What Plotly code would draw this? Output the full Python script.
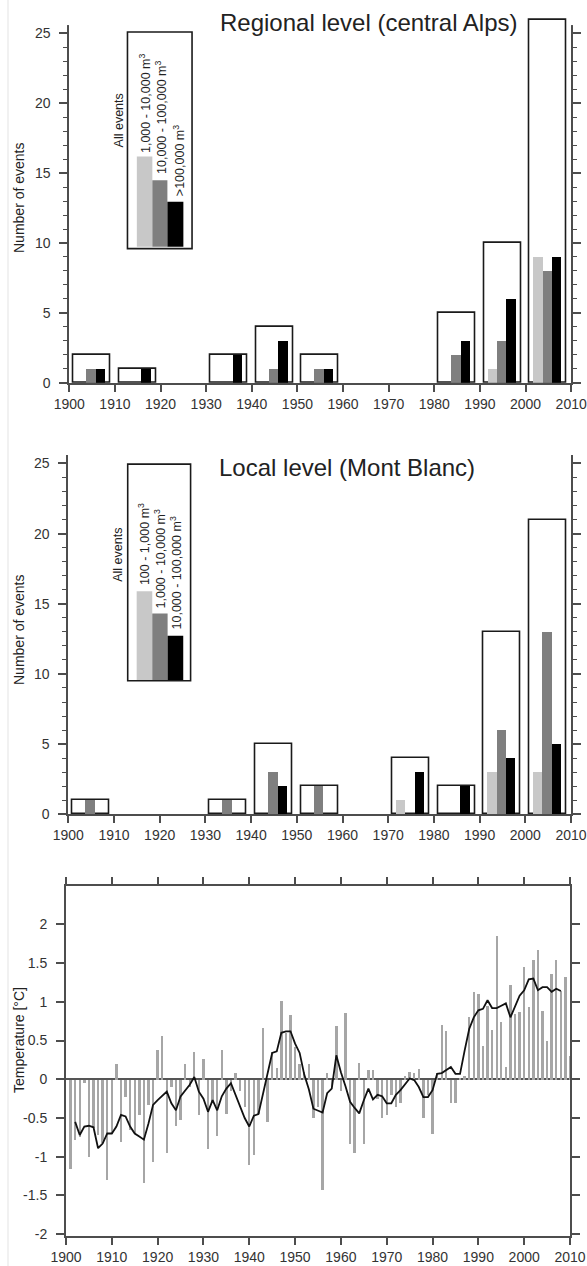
import plotly.graph_objects as go

# ---------------- data ----------------
decades = [1900, 1910, 1920, 1930, 1940, 1950, 1960, 1970, 1980, 1990, 2000]

# Regional level (central Alps)
reg_all = [2, 1, 0, 2, 4, 2, 0, 0, 5, 10, 26]
reg_small = [0, 0, 0, 0, 0, 0, 0, 0, 0, 1, 9]      # 1,000 - 10,000 m3
reg_mid = [1, 0, 0, 0, 1, 1, 0, 0, 2, 3, 8]        # 10,000 - 100,000 m3
reg_large = [1, 1, 0, 2, 3, 1, 0, 0, 3, 6, 9]      # >100,000 m3

# Local level (Mont Blanc)
loc_all = [1, 0, 0, 1, 5, 2, 0, 4, 2, 13, 21]
loc_small = [0, 0, 0, 0, 0, 0, 0, 1, 0, 3, 3]      # 100 - 1,000 m3
loc_mid = [1, 0, 0, 1, 3, 2, 0, 0, 0, 6, 13]       # 1,000 - 10,000 m3
loc_large = [0, 0, 0, 0, 2, 0, 0, 3, 2, 4, 5]      # 10,000 - 100,000 m3

# Temperature anomalies (annual) 1901-2010
years = list(range(1901, 2011))
temp_anom = [
    -1.15, -0.78, -0.74, -0.05, -1.00, -0.62, -0.72, -0.82, -1.30, -0.70,   # 1901-1910
    0.20, -0.80, -0.22, -0.65, -0.70, -0.46, -1.34, -0.33, -1.06, 0.38,     # 1911-1920
    0.56, -0.95, -0.10, -0.60, -0.52, 0.20, -0.10, 0.36, -0.46, 0.27,       # 1921-1930
    -0.89, -0.30, -0.73, 0.38, -0.45, -0.15, 0.08, -0.15, -0.35, -1.10,     # 1931-1940
    -0.97, -0.45, 0.66, -0.55, 0.35, 0.15, 1.02, 0.60, 0.83, 0.42,          # 1941-1950
    0.20, 0.10, 0.20, -0.50, -0.35, -1.42, 0.08, -0.10, 0.69, -0.15,        # 1951-1960
    0.86, -0.83, -0.95, 0.21, -0.83, 0.12, 0.13, -0.25, -0.50, -0.46,       # 1961-1970
    -0.20, -0.35, -0.30, 0.05, 0.10, 0.08, 0.14, -0.50, -0.20, -0.70,       # 1971-1980
    0.08, 0.70, 0.63, -0.30, -0.30, 0.02, 0.05, 0.81, 1.13, 1.10,           # 1981-1990
    0.43, 0.95, 0.64, 1.86, 0.75, 0.16, 1.22, 0.85, 0.87, 1.46,             # 1991-2000
    0.94, 1.54, 1.67, 0.89, 0.50, 1.36, 1.54, 1.14, 1.32, 0.30,             # 2001-2010
]

# Smoothed temperature curve 1902-2008
smooth_years = list(range(1902, 2009))
temp_smooth = [
    -0.55, -0.72, -0.61, -0.60, -0.62, -0.89, -0.83, -0.70, -0.70,          # 1902-1910
    -0.61, -0.46, -0.48, -0.61, -0.70, -0.74, -0.78, -0.57, -0.33, -0.27,   # 1911-1920
    -0.22, -0.16, -0.31, -0.40, -0.22, -0.14, -0.07, 0.03, -0.16, -0.25,    # 1921-1930
    -0.42, -0.27, -0.40, -0.22, -0.12, -0.05, -0.20, -0.35, -0.50, -0.61,   # 1931-1940
    -0.47, -0.45, -0.18, 0.06, 0.34, 0.36, 0.60, 0.62, 0.62, 0.46,          # 1941-1950
    0.34, 0.06, -0.13, -0.38, -0.40, -0.43, -0.18, -0.12, 0.31, 0.09,       # 1951-1960
    -0.09, -0.29, -0.37, -0.44, -0.27, -0.12, -0.26, -0.20, -0.22, -0.31,   # 1961-1970
    -0.31, -0.20, -0.14, -0.07, 0.01, -0.01, -0.10, -0.23, -0.23, -0.14,    # 1971-1980
    0.07, 0.08, 0.12, 0.16, 0.07, 0.07, 0.37, 0.65, 0.80, 0.89,             # 1981-1990
    0.91, 1.02, 0.92, 0.92, 0.95, 0.98, 0.80, 0.95, 1.08, 1.15,             # 1991-2000
    1.29, 1.30, 1.15, 1.19, 1.19, 1.13, 1.17, 1.14,                         # 2001-2008
]

x_ticks = [1900, 1910, 1920, 1930, 1940, 1950, 1960, 1970, 1980, 1990, 2000, 2010]
count_ticks = [0, 5, 10, 15, 20, 25]
count_minor_ticks = list(range(0, 26))
temp_ticks = [-2, -1.5, -1, -0.5, 0, 0.5, 1, 1.5, 2]
temp_tick_text = ["-2", "-1.5", "-1", "-0.5", "0", "0.5", "1", "1.5", "2"]

# ---------------- styling ----------------
W, H = 587, 1266
FONT = "Liberation Sans, Arial, sans-serif"
AX = "#4d4d4d"
TXT = "#333333"
C_LIGHT = "#c8c8c8"
C_MID = "#7f7f7f"
C_DARK = "#000000"


def px_x(p):
    return p / W


def px_y(p):
    return 1 - p / H


fig = go.Figure()


def nonzero(xs, ys):
    pairs = [(a, b) for a, b in zip(xs, ys) if b > 0]
    return [p[0] for p in pairs], [p[1] for p in pairs]


def add_event_panel(xa, ya, all_v, s, m, l):
    x, y = nonzero(decades, all_v)
    fig.add_trace(go.Bar(x=x, y=y, offset=0.9, width=8.1, xaxis=xa, yaxis=ya,
                         marker=dict(color="white", line=dict(color="#1a1a1a", width=1.6)),
                         showlegend=False, hoverinfo="x+y"))
    for vals, col, off in [(s, C_LIGHT, 1.75), (m, C_MID, 3.8), (l, C_DARK, 5.85)]:
        x, y = nonzero(decades, vals)
        fig.add_trace(go.Bar(x=x, y=y, offset=off, width=2.05, xaxis=xa, yaxis=ya,
                             marker=dict(color=col, line=dict(width=0)),
                             showlegend=False, hoverinfo="x+y"))


add_event_panel("x", "y", reg_all, reg_small, reg_mid, reg_large)
add_event_panel("x2", "y2", loc_all, loc_small, loc_mid, loc_large)

fig.add_trace(go.Bar(x=years, y=temp_anom, width=0.52, xaxis="x3", yaxis="y3",
                     marker=dict(color="#a6a6a6", line=dict(width=0)), showlegend=False))
fig.add_trace(go.Scatter(x=smooth_years, y=temp_smooth, mode="lines", xaxis="x3", yaxis="y3",
                         line=dict(color="#111111", width=1.8), showlegend=False))

TICKFONT = dict(size=14, color=TXT, family=FONT)
common_x = dict(range=[1900, 2010], tickvals=x_ticks, ticks="outside", ticklen=7, tickwidth=1.5,
                tickcolor=AX, showline=True, linecolor=AX, linewidth=2, showgrid=False,
                zeroline=False, automargin=False, tickfont=TICKFONT)
count_y = dict(tickvals=count_ticks, ticks="outside", ticklen=8, tickwidth=1.5,
               tickcolor=AX, showline=True, linecolor=AX, linewidth=2, mirror="ticks",
               showgrid=False, zeroline=False, ticklabelstandoff=6, automargin=False,
               minor=dict(tickmode="array", tickvals=count_minor_ticks, ticks="outside",
                          ticklen=4, tickwidth=1.2, tickcolor=AX),
               tickfont=TICKFONT)

# top panel: range extends a little above 25 so the tallest decade box is not cut
Y1_BOTTOM, Y1_UNIT, Y1_TOP = 382.7, 13.97, 26.4
fig.update_layout(
    width=W, height=H, margin=dict(l=0, r=0, t=0, b=0, autoexpand=False),
    paper_bgcolor="white", plot_bgcolor="white",
    barmode="overlay", bargap=0,
    font=dict(family=FONT, color=TXT),
    xaxis=dict(domain=[px_x(69.3), px_x(571.2)], anchor="y", **common_x),
    yaxis=dict(domain=[px_y(Y1_BOTTOM), px_y(Y1_BOTTOM - Y1_UNIT * Y1_TOP)], anchor="x",
               range=[0, Y1_TOP], **count_y),
    xaxis2=dict(domain=[px_x(68.3), px_x(571)], anchor="y2", **common_x),
    yaxis2=dict(domain=[px_y(814.3), px_y(455)], anchor="x2", range=[0, 25.6], **count_y),
    xaxis3=dict(domain=[px_x(66), px_x(570)], anchor="y3", mirror="ticks", **common_x),
    yaxis3=dict(domain=[px_y(1235.7), px_y(885.7)], anchor="x3", range=[-2.02, 2.5],
                tickvals=temp_ticks, ticktext=temp_tick_text, ticks="outside", ticklen=8,
                tickwidth=1.5, tickcolor=AX, showline=True, linecolor=AX, linewidth=2,
                mirror="ticks", showgrid=False, zeroline=True, zerolinecolor="#555555",
                zerolinewidth=2, ticklabelstandoff=6, automargin=False,
                tickfont=TICKFONT),
)

shapes = []
annotations = []

# faint page border line on the left
shapes.append(dict(type="line", xref="paper", yref="paper", x0=px_x(8), x1=px_x(8), y0=0, y1=1,
                   line=dict(color="#e3e3e3", width=1)))

# hide the axis-line stubs above 25.6 in the top panel
y_cut = Y1_BOTTOM - Y1_UNIT * 25.6
for xa, xb in [(60, 75), (569.5, 584)]:
    shapes.append(dict(type="rect", xref="paper", yref="paper", x0=px_x(xa), x1=px_x(xb),
                       y0=px_y(y_cut), y1=px_y(5), line=dict(width=0), fillcolor="white",
                       layer="above"))


def legend_block(xr, yr, box, bars, labels):
    shapes.append(dict(type="rect", xref=xr, yref=yr, x0=box[0], x1=box[1], y0=box[2], y1=box[3],
                       line=dict(color="#1a1a1a", width=1.6), fillcolor="white", layer="below"))
    for (x0, x1, y0, y1, col) in bars:
        shapes.append(dict(type="rect", xref=xr, yref=yr, x0=x0, x1=x1, y0=y0, y1=y1,
                           line=dict(width=0), fillcolor=col, layer="above"))
    for (tx, ty, txt) in labels:
        annotations.append(dict(xref=xr, yref=yr, x=tx, y=ty, text=txt, textangle=-90,
                                showarrow=False, xanchor="center", yanchor="bottom",
                                font=dict(size=12.5, color="#222222", family=FONT)))


legend_block("x", "y", (1912.75, 1926.9, 9.6, 25.1),
             [(1914.8, 1918.2, 9.74, 16.2, C_LIGHT), (1918.2, 1921.5, 9.74, 14.5, C_MID),
              (1921.5, 1925.0, 9.74, 12.96, C_DARK)],
             [(1910.9, 16.7, "All events"), (1916.6, 16.3, "1,000 - 10,000 m<sup>3</sup>"),
              (1920.2, 14.8, "10,000 - 100,000 m<sup>3</sup>"), (1923.9, 13.2, "&gt;100,000 m<sup>3</sup>")])

legend_block("x2", "y2", (1913.0, 1926.76, 9.52, 24.95),
             [(1914.96, 1918.37, 9.57, 15.9, C_LIGHT), (1918.37, 1921.73, 9.57, 14.31, C_MID),
              (1921.73, 1925.15, 9.57, 12.72, C_DARK)],
             [(1910.8, 16.4, "All events"), (1916.6, 16.2, "100 - 1,000 m<sup>3</sup>"),
              (1920.0, 14.5, "1,000 - 10,000 m<sup>3</sup>"), (1923.6, 13.0, "10,000 - 100,000 m<sup>3</sup>")])

# panel titles
annotations.append(dict(xref="paper", yref="paper", x=px_x(368), y=px_y(22), text="Regional level (central Alps)",
                        showarrow=False, xanchor="center", yanchor="middle",
                        font=dict(size=24, color="#222222", family=FONT)))
annotations.append(dict(xref="paper", yref="paper", x=px_x(347), y=px_y(467), text="Local level (Mont Blanc)",
                        showarrow=False, xanchor="center", yanchor="middle",
                        font=dict(size=24, color="#222222", family=FONT)))

# axis titles
for yc, txt in [(198, "Number of events"), (630, "Number of events"), (1040, "Temperature [°C]")]:
    annotations.append(dict(xref="paper", yref="paper", x=px_x(19), y=px_y(yc), text=txt, textangle=-90,
                            showarrow=False, xanchor="center", yanchor="middle",
                            font=dict(size=14, color="#222222", family=FONT)))

fig.update_layout(shapes=shapes, annotations=annotations)

fig.write_html("out.html", config={"displayModeBar": False},
               post_script="document.body.style.margin='0px';document.body.style.overflow='hidden';")
